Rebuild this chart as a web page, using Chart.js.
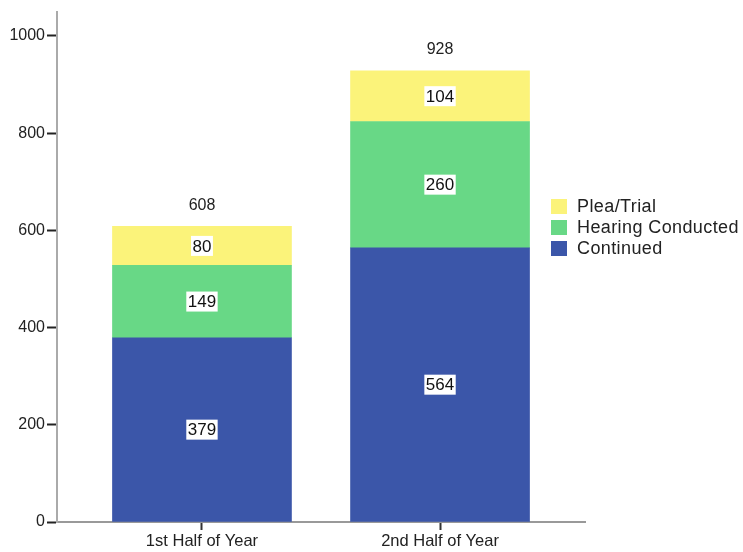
<!DOCTYPE html>
<html>
<head>
<meta charset="utf-8">
<script src="https://cdn.jsdelivr.net/npm/chart.js@4/dist/chart.umd.min.js"></script>
<style>
  html, body { margin: 0; padding: 0; background: #fff; }
  #wrap { width: 743px; height: 552px; }
</style>
</head>
<body>
<div id="wrap"><canvas id="chart"></canvas></div>
<script>
/* ================= DATA ================= */

const categories = ["1st Half of Year", "2nd Half of Year"];
const seriesNames = ["Continued", "Hearing Conducted", "Plea/Trial"];
const continued = [379, 564];
const hearingConducted = [149, 260];
const pleaTrial = [80, 104];
const totals = [608, 928];
const yTicks = [0, 200, 400, 600, 800, 1000];

const colors = ["#3b56a9", "#68d886", "#fbf37a"];
const FONT = "'Liberation Sans', Arial, sans-serif";

function points(values) {
  return values.map((v, i) => ({ x: i, y: v }));
}

/* ================= LABELS + LEGEND ================= */

const labelPlugin = {
  id: "labels",
  afterDatasetsDraw(chart) {
    const ctx = chart.ctx;
    ctx.save();
    ctx.textAlign = "center";
    ctx.textBaseline = "middle";

    // segment values in white boxes
    ctx.font = `17px ${FONT}`;
    chart.data.datasets.forEach((ds, di) => {
      chart.getDatasetMeta(di).data.forEach((bar, i) => {
        const text = String(ds.data[i].y);
        const cy = (bar.y + bar.base) / 2;
        const w = ctx.measureText(text).width + 3;
        ctx.fillStyle = "#fff";
        ctx.fillRect(bar.x - w / 2, cy - 10, w, 20);
        ctx.fillStyle = "#111";
        ctx.fillText(text, bar.x, cy + 1);
      });
    });

    // totals on top
    ctx.font = `16px ${FONT}`;
    const top = chart.getDatasetMeta(chart.data.datasets.length - 1).data;
    top.forEach((bar, i) => {
      ctx.fillStyle = "#222";
      ctx.fillText(String(totals[i]), bar.x, bar.y - 21);
    });

    // legend (top series first)
    ctx.textAlign = "left";
    ctx.font = `18px ${FONT}`;
    ctx.letterSpacing = "0.4px";
    const items = chart.data.datasets.slice().reverse();
    items.forEach((ds, k) => {
      const y = 199 + k * 21;
      ctx.fillStyle = ds.backgroundColor;
      ctx.fillRect(551, y, 16, 15);
      ctx.fillStyle = "#222";
      ctx.fillText(ds.label, 577, y + 8);
    });

    ctx.restore();
  }
};

/* ================= CHART ================= */

new Chart(document.getElementById("chart"), {
  type: "bar",
  data: {
    datasets: [
      { label: seriesNames[0], data: points(continued), backgroundColor: colors[0] },
      { label: seriesNames[1], data: points(hearingConducted), backgroundColor: colors[1] },
      { label: seriesNames[2], data: points(pleaTrial), backgroundColor: colors[2] }
    ]
  },
  options: {
    responsive: true,
    maintainAspectRatio: false,
    animation: false,
    layout: { padding: { top: 5, right: 158, left: 0, bottom: 0 } },
    datasets: { bar: { barThickness: 179, borderWidth: 0 } },
    plugins: {
      legend: { display: false },
      tooltip: { enabled: false }
    },
    scales: {
      x: {
        type: "linear",
        stacked: true,
        offset: false,
        min: -0.609,
        max: 1.609,
        afterBuildTicks: (s) => { s.ticks = categories.map((_, i) => ({ value: i })); },
        afterFit: (s) => { s.height = 30; },
        ticks: {
          callback: (v) => categories[v],
          color: "#222",
          font: { family: FONT, size: 16.5 },
          padding: 2,
          maxRotation: 0
        },
        grid: { offset: false, drawOnChartArea: false, tickLength: 8, tickColor: "#333", tickWidth: 2 },
        border: { color: "#999", width: 2 }
      },
      y: {
        stacked: true,
        min: 0,
        max: 1050,
        afterBuildTicks: (s) => { s.ticks = yTicks.map((v) => ({ value: v })); },
        afterFit: (s) => { s.width = 57; },
        ticks: {
          callback: (v) => String(v),
          color: "#222",
          font: { family: FONT, size: 16 },
          padding: 2
        },
        grid: { drawOnChartArea: false, tickLength: 10, tickColor: "#222", tickWidth: 2 },
        border: { color: "#aaa", width: 2 }
      }
    }
  },
  plugins: [labelPlugin]
});
</script>
</body>
</html>
